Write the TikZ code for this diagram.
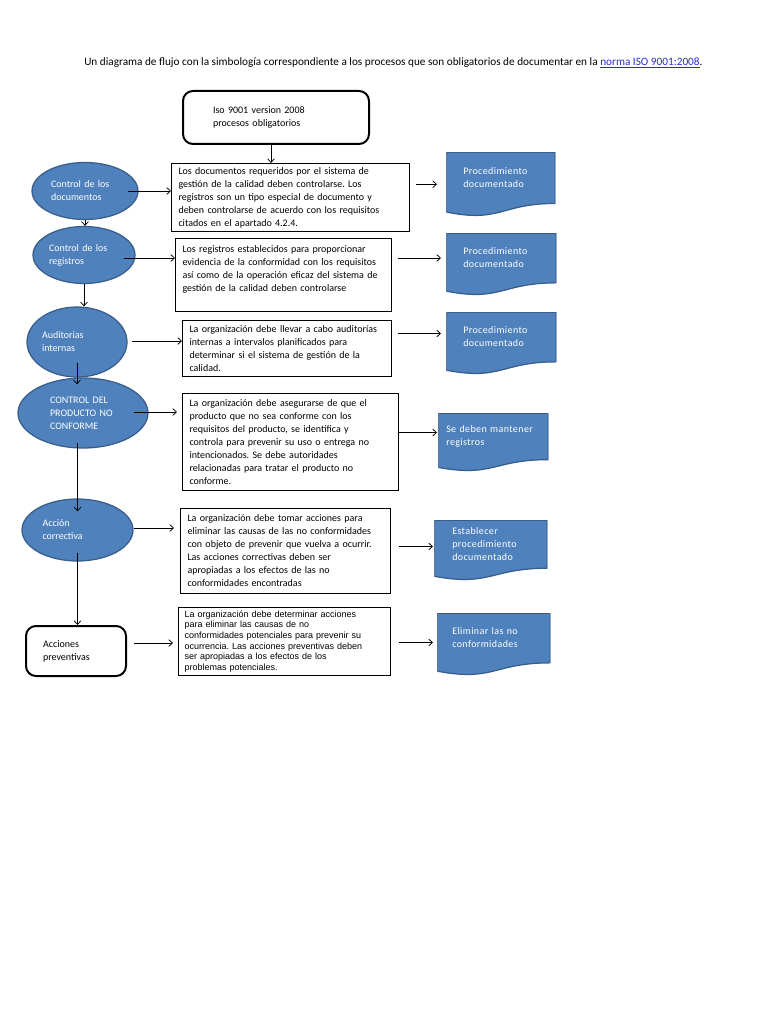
\documentclass[tikz,border=0pt]{standalone}
\usepackage{fontspec}
\setmainfont{Carlito}
\newfontfamily\arialfont{Liberation Sans}
\newfontfamily\docfont[LetterSpace=4]{Carlito}
\usetikzlibrary{shapes, arrows.meta, positioning, calc}
\definecolor{docblue}{HTML}{4F81BD}
\definecolor{docedge}{HTML}{385D8A}
\definecolor{linkblue}{HTML}{2B2BD6}
\frenchspacing

\begin{document}
\begin{tikzpicture}[x=0.8pt, y=-0.8pt, >={Straight Barb[length=3pt,width=5.5pt]},
    font=\fontsize{8}{10.4}\selectfont,
    flecha/.style={->, line width=0.6pt},
    caja/.style={draw, line width=0.8pt, inner xsep=5.6pt, inner ysep=0pt, align=left, anchor=north west},
    redonda/.style={caja, rounded corners=8pt, line width=1.6pt},
    elipse/.style={ellipse, fill=docblue, draw=docedge, line width=1pt, text=white, inner sep=0pt, align=left},
    documento/.style={anchor=north west, inner ysep=0pt, text=white, align=left,
        font=\docfont\fontsize{8}{10.4}\selectfont,
        path picture={\draw[fill=docblue, draw=docedge, line width=1pt]
            let \p1=(path picture bounding box.north west), \p2=(path picture bounding box.south east) in
            (\x1,\y1) -- (\x2,\y1) -- (\x2,{\y2+0.2*(\y1-\y2)})
            .. controls ({(\x1+\x2)/2},{\y2+0.2*(\y1-\y2)}) and ({(\x1+\x2)/2},{\y2-0.107*(\y1-\y2)})
            .. (\x1,{\y2+0.066*(\y1-\y2)}) -- cycle;}}]

\path[use as bounding box, fill=white] (0,0) rectangle (768,1024);

\node[anchor=west, inner sep=0pt, font=\fontsize{9}{10.4}\selectfont] (titulo) at (84,63) {Un diagrama de flujo con la simbología correspondiente a los procesos que son obligatorios de documentar en la \textcolor{linkblue}{\underline{norma ISO 9001:2008}}.};

\node[redonda, minimum width=148.8pt, minimum height=42.4pt, inner xsep=24pt, text width=100.8pt] (top) at (182,90) {Iso 9001 version 2008\\procesos obligatorios};

\node[caja, minimum width=190.4pt, minimum height=54.4pt, text width=179.2pt] (b1) at (171,163) {Los documentos requeridos por el sistema de\\ gestión de la calidad deben controlarse. Los\\ registros son un tipo especial de documento y\\ deben controlarse de acuerdo con los requisitos\\ citados en el apartado 4.2.4.};
\node[caja, minimum width=172.8pt, minimum height=58.4pt, text width=161.6pt] (b2) at (175,238) {Los registros establecidos para proporcionar\\ evidencia de la conformidad con los requisitos\\ así como de la operación eficaz del sistema de\\ gestión de la calidad deben controlarse\\ \mbox{}};
\node[caja, minimum width=167.2pt, minimum height=44.8pt, text width=156pt] (b3) at (182,320) {La organización debe llevar a cabo auditorías\\ internas a intervalos planificados para\\ determinar si el sistema de gestión de la\\ calidad.};
\node[caja, minimum width=172.8pt, minimum height=77.6pt, text width=161.6pt] (b4) at (182,393) {La organización debe asegurarse de que el\\ producto que no sea conforme con los\\ requisitos del producto, se identifica y\\ controla para prevenir su uso o entrega no\\ intencionados. Se debe autoridades\\ relacionadas para tratar el producto no\\ conforme.};
\node[caja, minimum width=168pt, minimum height=68pt, text width=156.8pt] (b5) at (180,508) {La organización debe tomar acciones para\\ eliminar las causas de las no conformidades\\ con objeto de prevenir que vuelva a ocurrir.\\ Las acciones correctivas deben ser\\ apropiadas a los efectos de las no\\ conformidades encontradas};
\node[caja, minimum width=169.6pt, minimum height=54.4pt, inner xsep=4.8pt, text width=160pt, font=\arialfont\fontsize{7.2}{8.5}\selectfont] (b7) at (178,607) {La organización debe determinar acciones\\ para eliminar las causas de no\\ conformidades potenciales para prevenir su\\ ocurrencia. Las acciones preventivas deben\\ ser apropiadas a los efectos de los\\ problemas potenciales.};

\node[elipse, minimum width=84.8pt, minimum height=45.6pt, text width=54.4pt] (e1) at (85,191) {Control de los\\documentos};
\node[elipse, minimum width=81.6pt, minimum height=45.6pt, text width=56pt] (e2) at (84,255) {Control de los\\registros};
\node[elipse, minimum width=80pt, minimum height=56pt, text width=56pt] (e3) at (77,342) {Auditorias\\internas};
\node[elipse, minimum width=104pt, minimum height=56pt, text width=52.8pt] (e4) at (83,413) {CONTROL DEL\\PRODUCTO NO\\CONFORME};
\node[elipse, minimum width=88.8pt, minimum height=49.6pt, text width=56pt] (e5) at (77.5,530) {Acción\\correctiva};
\node[redonda, minimum width=80pt, minimum height=40pt, inner xsep=13.6pt, text width=52.8pt] (bx6) at (25,625) {Acciones\\preventivas};

\node[documento, minimum width=87.2pt, minimum height=51.2pt, inner xsep=13.6pt, text width=60pt] (d1) at (446,152) {Procedimiento\\documentado\\ \mbox{}};
\node[documento, minimum width=88pt, minimum height=49.6pt, inner xsep=13.6pt, text width=60.8pt] (d2) at (446,233) {Procedimiento\\documentado\\ \mbox{}};
\node[documento, minimum width=88pt, minimum height=49.6pt, inner xsep=13.6pt, text width=60.8pt] (d3) at (446,312) {Procedimiento\\documentado\\ \mbox{}};
\node[documento, minimum width=88pt, minimum height=46.4pt, inner xsep=6.4pt, text width=75.2pt] (d4) at (438,413) {Se deben mantener\\registros\\ \mbox{}};
\node[documento, minimum width=90.4pt, minimum height=48pt, inner xsep=14.4pt, text width=61.6pt] (d5) at (434,520) {Establecer\\procedimiento\\documentado\\ \mbox{}};
\node[documento, minimum width=90.4pt, minimum height=49.6pt, inner xsep=12pt, text width=66.4pt] (d7) at (437,613) {Eliminar las no\\conformidades\\ \mbox{}};

\draw[flecha] ($(top.south)+(-5,0)$) -- ($(top.south |- b1.north)+(-5,0)$);
\draw[flecha] ($(e1.east)+(-11,0)$) -- (e1.east -| b1.west);
\draw[flecha] ($(b1.east |- d1.west)+(6,0)$) -- ($(d1.west)+(-9,0)$);
\draw[flecha] (e1.south) -- (e1.south |- e2.north);
\draw[flecha] ($(e2.east)+(-12,3)$) -- ($(e2.east -| b2.west)+(0,3)$);
\draw[flecha] ($(b2.east |- e2.east)+(6,3)$) -- ($(d2.west |- e2.east)+(-5,3)$);
\draw[flecha] (e2.south) -- (e2.south |- e3.north);
\draw[flecha] ($(e3.east)+(4,-1)$) -- ($(e3.east -| b3.west)+(0,-1)$);
\draw[flecha] ($(b3.east)+(6,-15)$) -- ($(b3.east -| d3.west)+(-5,-15)$);
\draw[flecha] ($(e3.south)+(0,-15)$) -- ($(e3.south |- e4.north)+(0,7)$);
\draw[flecha] ($(e4.east)+(-15,-1)$) -- ($(e4.east -| b4.west)+(-5,-1)$);
\draw[flecha] ($(b4.east)+(0,-9.5)$) -- ($(b4.east -| d4.west)+(-1,-9.5)$);
\draw[flecha] ($(e5.north |- e4.south)+(0,-6)$) -- ($(e5.north)+(0,13)$);
\draw[flecha] ($(e5.east)+(0,-2)$) -- ($(e5.east -| b5.west)+(-6,-2)$);
\draw[flecha] ($(b5.east)+(8,-4.5)$) -- ($(b5.east -| d5.west)+(-1,-4.5)$);
\draw[flecha] ($(e5.south)+(0,-9)$) -- (e5.south |- bx6.north);
\draw[flecha] ($(bx6.east)+(7,-8)$) -- ($(bx6.east -| b7.west)+(-5,-8)$);
\draw[flecha] ($(b7.east)+(8,1)$) -- ($(b7.east -| d7.west)+(-4,1)$);
\end{tikzpicture}
\end{document}
